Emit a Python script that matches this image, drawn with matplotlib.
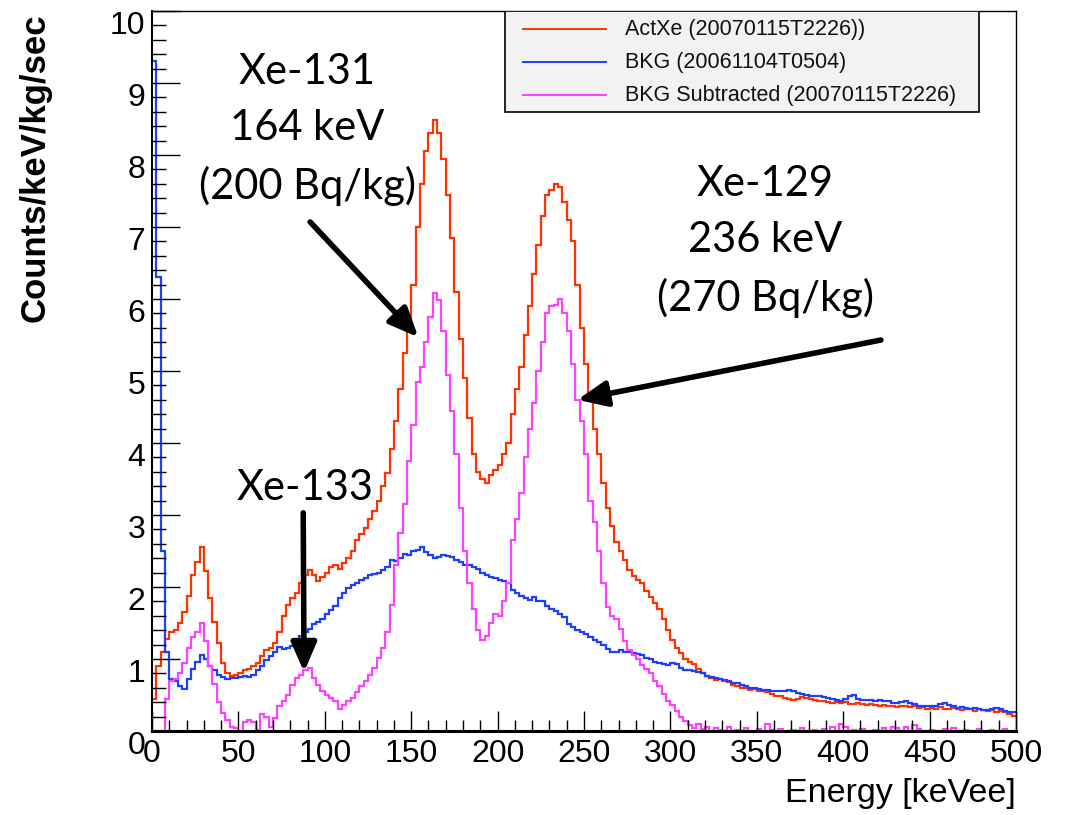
# Xe activation spectrum: ActXe vs background (ROOT-style histogram)
import numpy as np
import matplotlib
matplotlib.use('Agg')
import matplotlib.pyplot as plt
from matplotlib.patches import Rectangle
from matplotlib.ticker import MultipleLocator

BIN_WIDTH = 2.5  # keV per bin, spectra start at 0 keV

act_xe = [
    0.45, 0.90, 1.10, 1.28, 1.38, 1.40, 1.50, 1.65, 1.88, 2.16,
    2.35, 2.56, 2.22, 1.85, 1.52, 1.22, 0.95, 0.80, 0.76, 0.78,
    0.80, 0.84, 0.86, 0.90, 0.95, 1.04, 1.12, 1.15, 1.22, 1.38,
    1.60, 1.75, 1.84, 1.92, 2.05, 2.16, 2.24, 2.16, 2.08, 2.14,
    2.20, 2.28, 2.30, 2.25, 2.33, 2.40, 2.50, 2.65, 2.74, 2.82,
    2.95, 3.05, 3.20, 3.40, 3.58, 3.92, 4.30, 4.75, 5.25, 5.70,
    6.20, 7.00, 7.60, 8.05, 8.30, 8.48, 8.30, 7.95, 7.45, 6.85,
    6.10, 5.45, 4.90, 4.35, 3.85, 3.60, 3.50, 3.45, 3.55, 3.62,
    3.70, 3.85, 4.00, 4.40, 4.75, 5.05, 5.50, 5.90, 6.35, 6.75,
    7.15, 7.45, 7.52, 7.60, 7.55, 7.35, 7.10, 6.80, 6.20, 5.60,
    5.10, 4.60, 4.20, 3.85, 3.45, 3.10, 2.85, 2.62, 2.50, 2.38,
    2.24, 2.15, 2.10, 2.06, 1.95, 1.86, 1.78, 1.70, 1.55, 1.40,
    1.26, 1.15, 1.08, 1.00, 0.96, 0.93, 0.86, 0.80, 0.77, 0.74,
    0.71, 0.72, 0.70, 0.68, 0.64, 0.62, 0.60, 0.60, 0.57, 0.58,
    0.56, 0.55, 0.54, 0.52, 0.49, 0.48, 0.46, 0.44, 0.43, 0.45,
    0.47, 0.46, 0.44, 0.43, 0.42, 0.41, 0.40, 0.39, 0.40, 0.39,
    0.40, 0.38, 0.37, 0.39, 0.37, 0.36, 0.38, 0.36, 0.35, 0.36,
    0.34, 0.35, 0.33, 0.35, 0.34, 0.33, 0.34, 0.32, 0.33, 0.31,
    0.32, 0.30, 0.33, 0.31, 0.30, 0.32, 0.30, 0.29, 0.31, 0.30,
    0.28, 0.30, 0.29, 0.28, 0.29, 0.27, 0.28, 0.26, 0.23, 0.21,
]

bkg = [
    9.30, 6.30, 2.50, 1.10, 0.72, 0.70, 0.62, 0.58, 0.72, 0.86,
    0.96, 1.06, 1.00, 0.90, 0.84, 0.78, 0.75, 0.72, 0.73, 0.74,
    0.75, 0.76, 0.75, 0.78, 0.84, 0.90, 0.98, 1.04, 1.10, 1.16,
    1.14, 1.15, 1.18, 1.26, 1.32, 1.37, 1.42, 1.48, 1.52, 1.56,
    1.62, 1.68, 1.74, 1.84, 1.92, 1.98, 2.03, 2.06, 2.10, 2.13,
    2.16, 2.18, 2.20, 2.24, 2.28, 2.38, 2.36, 2.40, 2.46, 2.44,
    2.50, 2.52, 2.55, 2.48, 2.44, 2.40, 2.42, 2.45, 2.43, 2.42,
    2.38, 2.35, 2.30, 2.30, 2.28, 2.25, 2.20, 2.16, 2.14, 2.12,
    2.10, 2.08, 2.05, 1.96, 1.92, 1.88, 1.84, 1.82, 1.86, 1.80,
    1.80, 1.74, 1.70, 1.67, 1.62, 1.58, 1.48, 1.44, 1.40, 1.37,
    1.34, 1.31, 1.27, 1.24, 1.20, 1.14, 1.10, 1.10, 1.12, 1.10,
    1.10, 1.08, 1.07, 1.05, 1.02, 1.00, 0.96, 0.94, 0.93, 0.92,
    0.94, 0.93, 0.88, 0.85, 0.84, 0.83, 0.82, 0.80, 0.77, 0.75,
    0.73, 0.72, 0.71, 0.69, 0.67, 0.66, 0.64, 0.62, 0.60, 0.60,
    0.58, 0.57, 0.57, 0.56, 0.55, 0.55, 0.56, 0.57, 0.56, 0.53,
    0.51, 0.50, 0.49, 0.48, 0.48, 0.47, 0.46, 0.45, 0.43, 0.42,
    0.45, 0.48, 0.50, 0.45, 0.43, 0.43, 0.43, 0.42, 0.43, 0.42,
    0.41, 0.39, 0.39, 0.40, 0.41, 0.39, 0.37, 0.35, 0.34, 0.34,
    0.34, 0.35, 0.38, 0.39, 0.36, 0.34, 0.32, 0.33, 0.32, 0.31,
    0.32, 0.30, 0.29, 0.29, 0.30, 0.32, 0.31, 0.28, 0.27, 0.26,
]

bkg_sub = [
    0.00, 0.00, 0.00, 0.45, 0.70, 0.72, 0.80, 0.95, 1.15, 1.30,
    1.38, 1.50, 1.25, 0.90, 0.65, 0.40, 0.25, 0.15, 0.06, 0.04,
    0.00, 0.12, 0.15, 0.12, 0.02, 0.24, 0.20, 0.06, 0.18, 0.35,
    0.42, 0.50, 0.64, 0.74, 0.78, 0.84, 0.87, 0.74, 0.64, 0.55,
    0.50, 0.46, 0.42, 0.30, 0.36, 0.42, 0.46, 0.54, 0.62, 0.70,
    0.78, 0.88, 1.02, 1.15, 1.38, 1.75, 2.30, 2.75, 3.15, 3.75,
    4.25, 4.85, 5.05, 5.40, 5.75, 6.08, 5.98, 5.55, 4.95, 4.45,
    3.85, 3.10, 2.50, 2.05, 1.70, 1.40, 1.26, 1.32, 1.50, 1.62,
    1.60, 1.80, 2.05, 2.65, 2.95, 3.30, 3.80, 4.20, 4.55, 5.00,
    5.40, 5.80, 5.90, 5.92, 6.00, 5.80, 5.55, 5.10, 4.60, 4.30,
    3.85, 3.20, 2.90, 2.50, 2.05, 1.72, 1.60, 1.55, 1.42, 1.25,
    1.12, 1.05, 1.00, 0.92, 0.86, 0.80, 0.70, 0.62, 0.52, 0.42,
    0.36, 0.28, 0.20, 0.14, 0.08, 0.04, 0.09, 0.03, 0.05, 0.00,
    0.04, 0.02, 0.00, 0.05, 0.00, 0.02, 0.00, 0.04, 0.00, 0.00,
    0.03, 0.00, 0.10, 0.02, 0.00, 0.03, 0.00, 0.00, 0.02, 0.00,
    0.04, 0.00, 0.00, 0.02, 0.00, 0.03, 0.00, 0.06, 0.00, 0.09,
    0.05, 0.00, 0.02, 0.00, 0.03, 0.00, 0.00, 0.02, 0.00, 0.04,
    0.00, 0.06, 0.04, 0.00, 0.05, 0.00, 0.08, 0.03, 0.00, 0.00,
    0.02, 0.00, 0.00, 0.03, 0.00, 0.04, 0.00, 0.00, 0.02, 0.00,
    0.00, 0.03, 0.00, 0.00, 0.02, 0.00, 0.00, 0.03, 0.00, 0.00,
]

series_labels = ['ActXe (20070115T2226))', 'BKG (20061104T0504)',
                 'BKG Subtracted (20070115T2226)']
series_colors = ['#ff3300', '#1f3fff', '#ff40ff']

plt.rcParams['font.family'] = ['Liberation Sans', 'DejaVu Sans']

fig = plt.figure(figsize=(10.66, 8.15), dpi=100)
ax = fig.add_axes([0.1426, 0.1031, 0.8105, 0.8834])

for vals, col in zip([act_xe, bkg, bkg_sub], series_colors):
    edges = np.arange(len(vals) + 1) * BIN_WIDTH
    ax.stairs(vals, edges, color=col, lw=1.6, baseline=None)

ax.set_xlim(0, 500)
ax.set_ylim(0, 10)

# ROOT style ticks: inside, only left/bottom
ax.xaxis.set_major_locator(MultipleLocator(50))
ax.xaxis.set_minor_locator(MultipleLocator(10))
ax.yaxis.set_major_locator(MultipleLocator(1))
ax.yaxis.set_minor_locator(MultipleLocator(0.2))
ax.tick_params(axis='both', which='both', direction='in', top=False, right=False,
               labelsize=23, color='black')
ax.tick_params(axis='y', which='major', length=20, width=1, pad=5)
ax.tick_params(axis='y', which='minor', length=10, width=1)
ax.tick_params(axis='x', which='major', length=14.5, width=1, pad=6)
ax.tick_params(axis='x', which='minor', length=8, width=1)
for lab in ax.get_yticklabels():
    lab.set_va('top')

ax.spines['bottom'].set_linewidth(2.2)
ax.spines['left'].set_linewidth(1.5)
ax.spines['top'].set_linewidth(1)
ax.spines['right'].set_linewidth(1)

ax.set_xlabel('Energy [keVee]', fontsize=24.5, loc='right', labelpad=6)
fig.text(35 / 1066, 1 - 13 / 815, 'Counts/keV/kg/sec', rotation=90,
         ha='center', va='top', fontsize=25, fontweight='bold')

# legend box (drawn by hand, ROOT TLegend look)
ax.add_patch(Rectangle((0.4086, 0.86), 0.5486, 0.14, transform=ax.transAxes,
                       facecolor='#f2f2f2', edgecolor='black', lw=1.2, zorder=5))
for k, (lab, col) in enumerate(zip(series_labels, series_colors)):
    yy = 0.975 - k * 0.046
    ax.plot([0.429, 0.525], [yy, yy], color=col, lw=1.4,
            transform=ax.transAxes, zorder=6)
    ax.text(0.5475, yy, lab, transform=ax.transAxes, fontsize=15.5,
            va='center', ha='left', color='#111111', zorder=6)

# peak annotations
ann_font = dict(fontsize=30, family=['Lato', 'DejaVu Sans'], ha='center',
                va='center', linespacing=1.58)
ax.text(89.8, 8.35, 'Xe-131\n164 keV\n(200 Bq/kg)', **ann_font)
ax.text(355, 6.8, 'Xe-129\n236 keV\n(270 Bq/kg)', **ann_font)
ax.text(88.6, 3.38, 'Xe-133', **ann_font)

arrow = dict(arrowstyle='-|>,head_length=0.8,head_width=0.35', lw=4,
             color='black', shrinkA=0, shrinkB=0, mutation_scale=22)
ax.annotate('', xy=(154.1, 5.47), xytext=(91.5, 7.07), arrowprops=arrow)
ax.annotate('', xy=(246.2, 4.6), xytext=(421.8, 5.43), arrowprops=arrow)
ax.annotate('', xy=(88.0, 0.82), xytext=(87.5, 3.03), arrowprops=arrow)

fig.savefig('out.png', dpi=100)
